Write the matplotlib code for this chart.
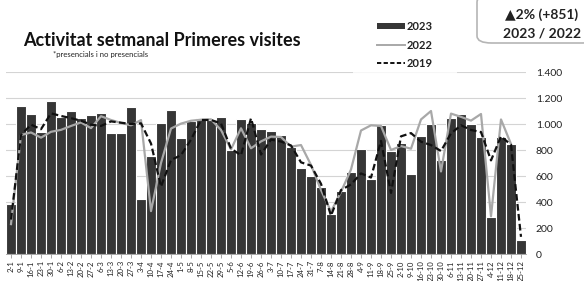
import matplotlib
matplotlib.use("Agg")
import matplotlib.pyplot as plt
import numpy as np
from matplotlib.patches import FancyBboxPatch, Patch
from matplotlib.lines import Line2D

plt.rcParams['font.family'] = ['Lato', 'DejaVu Sans']

weeks = ["2-1","9-1","16-1","23-1","30-1","6-2","13-2","20-2","27-2","6-3","13-3","20-3","27-3",
         "3-4","10-4","17-4","24-4","1-5","8-5","15-5","22-5","29-5","5-6","12-6","19-6","26-6",
         "3-7","10-7","17-7","24-7","31-7","7-8","14-8","21-8","28-8","4-9","11-9","18-9","25-9",
         "2-10","9-10","16-10","23-10","30-10","6-11","13-11","20-11","27-11","4-12","11-12","18-12","25-12"]

v2023 = [385,1135,1075,940,1174,1056,1097,1046,1069,1082,931,931,1128,
         423,756,1005,1108,890,1026,1046,1031,1056,800,1038,1005,962,
         949,918,820,662,603,513,308,487,628,808,577,995,790,
         855,618,905,998,725,1048,1075,1000,900,282,902,845,110]

v2022 = [230,915,935,895,940,955,985,1012,968,1060,1031,1008,990,
         1030,330,700,965,1003,1025,1033,1036,954,805,967,813,866,
         903,900,826,838,685,492,326,478,650,950,990,985,800,
         830,810,1035,1100,635,1080,1055,1026,1077,290,1035,846,np.nan]

v2019 = [265,915,995,960,1082,1062,1045,1025,995,985,1020,1010,1000,
         1005,850,518,723,760,880,1031,1031,1005,810,760,1044,765,
         880,865,835,705,680,540,295,492,535,620,588,870,470,
         905,930,864,838,792,928,990,954,938,720,905,840,132]

yticks = [0,200,400,600,800,1000,1200,1400]
ytick_labels = ["0","200","400","600","800","1.000","1.200","1.400"]

W, H = 584, 281
fig = plt.figure(figsize=(W/100, H/100), dpi=100)
ax = fig.add_axes([6/W, 1-254/H, 520/W, (254-72)/H])

x = np.arange(len(weeks))
ax.bar(x, v2023, width=1.0, color='#363636', edgecolor='white', linewidth=0.8, zorder=2)
ax.plot(x, v2022, color='#a8a8a8', lw=1.6, zorder=3)
ax.plot(x, v2019, color='#111111', lw=1.6, ls=(0, (3, 1.5)), zorder=4)

ax.set_xlim(-0.5, len(weeks)-0.5)
ax.set_ylim(0, 1400)
ax.set_yticks(yticks)
ax.set_yticklabels(ytick_labels)
ax.yaxis.tick_right()
ax.tick_params(axis='y', length=0, pad=7, labelsize=7.5, labelcolor='#222222')
ax.set_xticks(x)
ax.set_xticklabels(weeks, rotation=90, fontsize=5.6)
ax.tick_params(axis='x', length=3, width=0.6, color='#999999', pad=1.5, labelcolor='#222222')
ax.grid(axis='y', color='#d4d4d4', lw=0.8, zorder=0)
ax.set_axisbelow(True)
for s in ['top', 'right', 'left']:
    ax.spines[s].set_visible(False)
ax.spines['bottom'].set_color('#999999')
ax.spines['bottom'].set_linewidth(0.6)

# Title
fig.text(23/W, 1-40/H, "Activitat setmanal Primeres visites", fontsize=13, fontweight='bold',
         va='center', ha='left', color='#111111')
fig.text(53/W, 1-55/H, "*presencials i no presencials", fontsize=5.6, va='center', ha='left',
         color='#222222')

# Legend
handles = [Patch(facecolor='#363636', edgecolor='none'),
           Line2D([], [], color='#a8a8a8', lw=1.4),
           Line2D([], [], color='#111111', lw=1.4, ls=(0, (2.2, 1.2)))]
leg = fig.legend(handles, ["2023", "2022", "2019"], loc='upper left',
                 bbox_to_anchor=(353/W, 1+3/H), frameon=True, fontsize=8,
                 handlelength=2.5, handleheight=0.45, handletextpad=0.15, labelspacing=0.65,
                 borderpad=2.2, borderaxespad=0)
leg.get_frame().set_facecolor('white')
leg.get_frame().set_edgecolor('white')
leg.get_frame().set_linewidth(0)
for t in leg.get_texts():
    t.set_fontweight('bold')
    t.set_color('#222222')

# Box
box = FancyBboxPatch((477/W, 1-43/H), 120/W, 48/H, boxstyle="round,pad=0,rounding_size=0.025",
                     transform=fig.transFigure, facecolor='white', edgecolor='#b5b5b5', lw=1.2,
                     clip_on=False)
fig.patches.append(box)
fig.text(542/W, 1-15/H, "▲2% (+851)", fontsize=10, fontweight='bold', ha='center', va='center',
         color='#222222')
fig.text(542/W, 1-33/H, "2023 / 2022", fontsize=10, fontweight='bold', ha='center', va='center',
         color='#222222')

fig.savefig("out.png", dpi=100)
